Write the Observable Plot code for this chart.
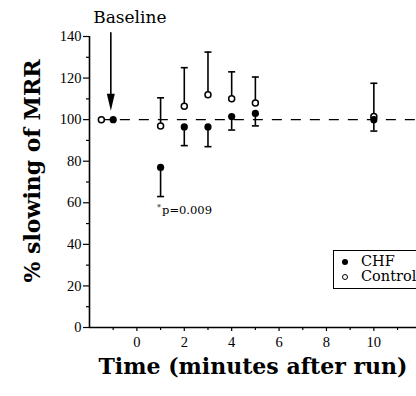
<!DOCTYPE html>
<html>
<head>
<meta charset="utf-8">
<script src="https://cdn.jsdelivr.net/npm/d3@7"></script>
<script src="https://cdn.jsdelivr.net/npm/@observablehq/plot@0.6"></script>
<style>
  html, body { margin: 0; padding: 0; background: #fff; overflow: hidden; }
  #wrap { position: relative; width: 416px; height: 396px; overflow: hidden; }
  #chart { position: absolute; left: 0; top: 0; }
  #legend {
    position: absolute; left: 333px; top: 250px; width: 100px; height: 39px;
    border: 1px solid #000; box-sizing: border-box;
    font-family: "DejaVu Serif", serif; font-size: 14.5px; line-height: 15px;
  }
  #legend .row { position: absolute; left: 0; white-space: nowrap; }
  #legend .sym { position: absolute; left: 8px; width: 6px; height: 6px; border-radius: 50%; box-sizing: border-box; }
  #legend .lab { position: absolute; left: 27px; }
</style>
</head>
<body>
<div id="wrap">
  <div id="chart"></div>
  <div id="legend"></div>
</div>
<script>
// ---- data ----
const chfTime   = [-1, 1, 2, 3, 4, 5, 10];
const chfMean   = [100, 77, 96.5, 96.5, 101.5, 103, 100];
const chfLower  = [null, 63, 87.5, 87, 95, 97, 94.5];

const ctrlTime  = [-1.5, 1, 2, 3, 4, 5, 10];
const ctrlMean  = [100, 97, 106.5, 112, 110, 108, 101.5];
const ctrlUpper = [null, 110.5, 125, 132.5, 123, 120.5, 117.5];

const xTicks = [0, 2, 4, 6, 8, 10];
const xMinor = [-1, 1, 3, 5, 7, 9, 11];
const yTicks = [0, 20, 40, 60, 80, 100, 120, 140];
const yMinor = [10, 30, 50, 70, 90, 110, 130];

const seriesNames = ["CHF", "Control"];
const baselineLabel = "Baseline";
const baselineX = -1.1, baselineTop = 141.8, baselineTip = 104.3;
const noteStar = "*";
const noteText = "p=0.009";
const noteX = 0.85, noteY = 56.5;
const refLine = 100;
const xTitle = "Time (minutes after run)";
const yTitle = "% slowing of MRR";

// ---- tables ----
const chf = chfTime.map((t, i) => ({t, m: chfMean[i], lo: chfLower[i]}));
const ctrl = ctrlTime.map((t, i) => ({t, m: ctrlMean[i], hi: ctrlUpper[i]}));
const chfErr = chf.filter(d => d.lo != null);
const ctrlErr = ctrl.filter(d => d.hi != null);

// custom symbols
const capSymbol = { draw(ctx, size) { const w = 3.5; ctx.moveTo(-w, 0); ctx.lineTo(w, 0); } };
const headSymbol = { draw(ctx, size) { ctx.moveTo(0, 0); ctx.lineTo(-4, -17); ctx.lineTo(4, -17); ctx.closePath(); } };

const chart = Plot.plot({
  width: 416,
  height: 396,
  marginLeft: 89,
  marginRight: 0,
  marginTop: 36,
  marginBottom: 69,
  style: { fontFamily: "Liberation Serif, serif", fontSize: "14.5px", color: "#000", background: "#fff" },
  x: { domain: [-2, 11.8] },
  y: { domain: [0, 140] },
  marks: [
    // axes
    Plot.axisY(yTicks, { tickSize: 6, tickPadding: 2, label: null, fontSize: 14.5, strokeWidth: 1.2 }),
    Plot.axisY(yMinor, { tickSize: 3, label: null, text: null, strokeWidth: 1.2 }),
    Plot.axisX(xTicks, { tickSize: 4, tickPadding: 5, label: null, fontSize: 14.5, strokeWidth: 1.2 }),
    Plot.axisX(xMinor, { tickSize: 3, label: null, text: null, strokeWidth: 1.2 }),
    Plot.ruleX([-2], { y1: 0, y2: 140, strokeWidth: 1.6 }),
    Plot.ruleY([0], { strokeWidth: 1.5 }),
    // reference dashed line
    Plot.ruleY([refLine], { x1: ctrlTime[0], x2: 11.8, strokeDasharray: "10,9", strokeWidth: 1.3 }),
    // error bars: control upward, CHF downward
    Plot.ruleX(ctrlErr, { x: "t", y1: "m", y2: "hi", strokeWidth: 1.6 }),
    Plot.dot(ctrlErr, { x: "t", y: "hi", symbol: capSymbol, stroke: "#000", strokeWidth: 1.6, r: 3 }),
    Plot.ruleX(chfErr, { x: "t", y1: "m", y2: "lo", strokeWidth: 1.6 }),
    Plot.dot(chfErr, { x: "t", y: "lo", symbol: capSymbol, stroke: "#000", strokeWidth: 1.6, r: 3 }),
    // points
    Plot.dot(ctrl, { x: "t", y: "m", r: 3, fill: "#fff", stroke: "#000", strokeWidth: 1.5 }),
    Plot.dot(chf, { x: "t", y: "m", r: 3.6, fill: "#000", stroke: "none" }),
    // baseline annotation
    Plot.ruleX([baselineX], { y1: baselineTop, y2: baselineTip + 6, strokeWidth: 1.6 }),
    Plot.dot([baselineX], { x: d => d, y: () => baselineTip, symbol: headSymbol, fill: "#000", stroke: "none", r: 3 }),
    Plot.text([baselineLabel], { x: () => -0.3, y: () => 149, text: d => d, fontFamily: "DejaVu Serif", fontSize: 17 }),
    // significance note
    Plot.text([noteStar], { x: () => noteX, y: () => noteY, text: d => d, textAnchor: "start", dy: -3, fontFamily: "DejaVu Serif", fontSize: 8 }),
    Plot.text([noteText], { x: () => noteX, y: () => noteY, text: d => d, textAnchor: "start", dx: 5, fontFamily: "DejaVu Serif", fontSize: 11.5 }),
    // axis titles
    Plot.text([xTitle], { frameAnchor: "bottom", lineAnchor: "middle", text: d => d, dy: 39, fontFamily: "DejaVu Serif", fontWeight: "bold", fontSize: 22 }),
    Plot.text([yTitle], { frameAnchor: "left", textAnchor: "middle", lineAnchor: "middle", text: d => d, rotate: -90, dx: -57, dy: -11, fontFamily: "DejaVu Serif", fontWeight: "bold", fontSize: 22 })
  ]
});
document.getElementById("chart").appendChild(chart);

// legend
const legend = d3.select("#legend");
const styles = [
  { fill: "#000", border: "none" },
  { fill: "#fff", border: "1.3px solid #000" }
];
seriesNames.forEach((name, i) => {
  const row = legend.append("div").attr("class", "row").style("top", (3 + i * 15) + "px");
  row.append("div").attr("class", "sym")
    .style("top", "5px")
    .style("background", styles[i].fill)
    .style("border", styles[i].border);
  row.append("div").attr("class", "lab").text(name);
});
</script>
</body>
</html>
